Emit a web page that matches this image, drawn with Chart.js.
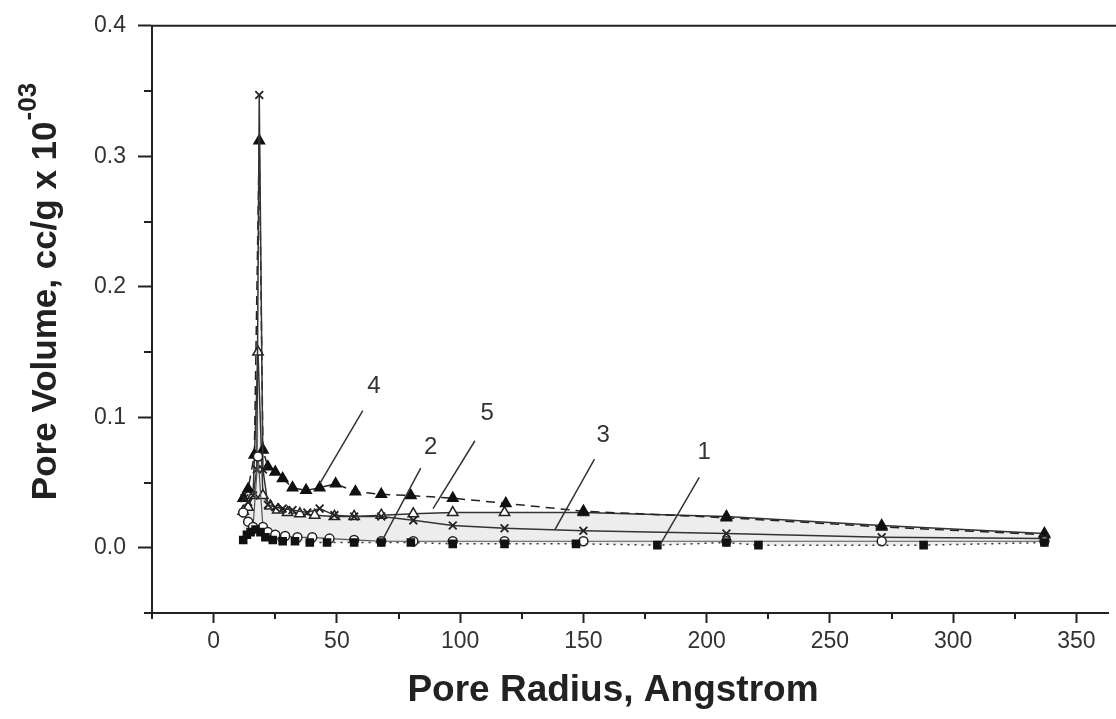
<!DOCTYPE html>
<html>
<head>
<meta charset="utf-8">
<script src="https://cdn.jsdelivr.net/npm/chart.js@4.4.0/dist/chart.umd.min.js"></script>
<style>
    html, body { margin: 0; padding: 0; background: #fff; overflow: hidden; }
</style>
</head>
<body>
<canvas id="pore-chart" width="1116" height="719"></canvas>
<script>
// Curve 1 - filled squares, dotted line
const s1X = [12, 13.5, 15, 17, 19, 21, 24, 28, 33, 39, 46, 57, 68, 80, 97, 118, 147, 180, 208, 221, 288, 337];
const s1Y = [0.006, 0.010, 0.012, 0.014, 0.012, 0.008, 0.006, 0.005, 0.005, 0.004, 0.004, 0.004, 0.004, 0.004, 0.003, 0.003, 0.003, 0.002, 0.004, 0.002, 0.002, 0.004];
// Curve 2 - open circles
const s2X = [12, 14, 16, 18, 20, 22, 25, 29, 34, 40, 47, 57, 68, 81, 97, 118, 150, 208, 271, 337];
const s2Y = [0.027, 0.020, 0.016, 0.070, 0.016, 0.012, 0.010, 0.009, 0.008, 0.008, 0.007, 0.006, 0.005, 0.005, 0.005, 0.005, 0.005, 0.005, 0.005, 0.005];
// Curve 3 - crosses
const s3X = [12.5, 14, 16, 17.5, 18.5, 20, 22, 25, 28, 32, 38, 43, 49, 57, 68, 81, 97, 118, 150, 208, 271, 337];
const s3Y = [0.038, 0.035, 0.040, 0.060, 0.347, 0.060, 0.033, 0.031, 0.030, 0.029, 0.027, 0.030, 0.025, 0.024, 0.024, 0.021, 0.017, 0.015, 0.013, 0.011, 0.008, 0.007];
// Curve 4 - filled triangles, dashed line
const s4X = [12, 14, 16.5, 18.5, 20, 22, 25, 28, 32, 37.5, 43, 49.5, 57.5, 68, 80, 97, 118.5, 150, 208, 271, 337];
const s4Y = [0.038, 0.045, 0.071, 0.312, 0.075, 0.062, 0.058, 0.053, 0.046, 0.044, 0.046, 0.049, 0.043, 0.041, 0.040, 0.038, 0.034, 0.028, 0.023, 0.016, 0.010];
// Curve 5 - open triangles
const s5X = [12, 14, 16, 18, 20, 23, 26, 30, 35, 41, 49, 57, 68, 81, 97, 118, 150, 208, 271, 337];
const s5Y = [0.028, 0.031, 0.040, 0.150, 0.040, 0.032, 0.029, 0.027, 0.026, 0.025, 0.024, 0.024, 0.025, 0.026, 0.027, 0.027, 0.027, 0.024, 0.017, 0.011];

// Axis ticks
const xTickValues = [0, 50, 100, 150, 200, 250, 300, 350];
const xMinorTicks = [-25, 25, 75, 125, 175, 225, 275, 325];
const yTickValues = [0.0, 0.1, 0.2, 0.3, 0.4];
const yMinorTicks = [-0.05, 0.05, 0.15, 0.25, 0.35];

// Curve number callouts (data units)
const calloutLabels = ['4', '2', '5', '3', '1'];
const calloutTextAt = [[65, 0.124], [88, 0.077], [111, 0.103], [158, 0.086], [199, 0.073]];
const calloutFrom = [[60.5, 0.105], [84, 0.061], [106, 0.082], [154.5, 0.068], [197, 0.054]];
const calloutTo = [[43, 0.049], [68.5, 0.006], [89, 0.030], [138.5, 0.014], [181, 0.002]];

const xTitle = 'Pore Radius, Angstrom';
const yTitle = 'Pore Volume, cc/g x 10';
const yTitleExp = '-03';

const FONT = "'Liberation Sans', Arial, sans-serif";
const INK = '#222';

const toPoints = (xs, ys) => xs.map((x, i) => ({ x, y: ys[i] }));

// frame top line, minor ticks, axis titles and callouts
const decorations = {
    id: 'decorations',
    afterDraw(chart) {
        const { ctx, chartArea } = chart;
        const xs = chart.scales.x;
        const ys = chart.scales.y;
        ctx.save();
        ctx.strokeStyle = INK;
        ctx.lineWidth = 2;

        // top frame
        ctx.beginPath();
        ctx.moveTo(chartArea.left - 1, chartArea.top);
        ctx.lineTo(chart.width, chartArea.top);
        ctx.stroke();

        // minor ticks
        ctx.beginPath();
        yMinorTicks.forEach(v => {
            const py = Math.round(ys.getPixelForValue(v));
            ctx.moveTo(chartArea.left - 8, py);
            ctx.lineTo(chartArea.left, py);
        });
        xMinorTicks.forEach(v => {
            const px = Math.round(xs.getPixelForValue(v));
            ctx.moveTo(px, chartArea.bottom);
            ctx.lineTo(px, chartArea.bottom + 6);
        });
        ctx.stroke();

        // callouts
        ctx.lineWidth = 1.5;
        ctx.strokeStyle = '#333';
        ctx.fillStyle = '#333';
        ctx.font = '24px ' + FONT;
        ctx.textAlign = 'center';
        ctx.textBaseline = 'middle';
        calloutLabels.forEach((label, i) => {
            ctx.beginPath();
            ctx.moveTo(xs.getPixelForValue(calloutFrom[i][0]), ys.getPixelForValue(calloutFrom[i][1]));
            ctx.lineTo(xs.getPixelForValue(calloutTo[i][0]), ys.getPixelForValue(calloutTo[i][1]));
            ctx.stroke();
            ctx.fillText(label, xs.getPixelForValue(calloutTextAt[i][0]), ys.getPixelForValue(calloutTextAt[i][1]));
        });

        // x title
        ctx.fillStyle = INK;
        ctx.font = 'bold 37px ' + FONT;
        ctx.textBaseline = 'alphabetic';
        ctx.fillText(xTitle, xs.getPixelForValue(162), 701);

        // y title with exponent
        ctx.font = 'bold 35px ' + FONT;
        const w1 = ctx.measureText(yTitle).width;
        ctx.font = 'bold 26px ' + FONT;
        const w2 = ctx.measureText(yTitleExp).width;
        ctx.translate(56, 292);
        ctx.rotate(-Math.PI / 2);
        ctx.textAlign = 'left';
        const start = -(w1 + w2) / 2;
        ctx.font = 'bold 35px ' + FONT;
        ctx.fillText(yTitle, start, 0);
        ctx.font = 'bold 26px ' + FONT;
        ctx.fillText(yTitleExp, start + w1 + 1, -20);
        ctx.restore();
    }
};

new Chart(document.getElementById('pore-chart'), {
    type: 'scatter',
    data: {
        datasets: [
            {
                label: '1',
                data: toPoints(s1X, s1Y),
                showLine: true,
                borderColor: '#333',
                borderWidth: 1.5,
                borderDash: [2, 5],
                pointStyle: 'rect',
                pointRadius: 5,
                pointBackgroundColor: '#111',
                pointBorderColor: '#111'
            },
            {
                label: '2',
                data: toPoints(s2X, s2Y),
                showLine: true,
                borderColor: '#555',
                borderWidth: 1.2,
                pointStyle: 'circle',
                pointRadius: 4.5,
                pointBackgroundColor: '#fff',
                pointBorderColor: '#222',
                pointBorderWidth: 1.5
            },
            {
                label: '3',
                data: toPoints(s3X, s3Y),
                showLine: true,
                borderColor: '#333',
                borderWidth: 1.5,
                pointStyle: 'crossRot',
                pointRadius: 5.5,
                pointBorderColor: '#222',
                pointBorderWidth: 1.8
            },
            {
                label: '4',
                data: toPoints(s4X, s4Y),
                showLine: true,
                borderColor: '#222',
                borderWidth: 1.5,
                borderDash: [9, 6],
                pointStyle: 'triangle',
                pointRadius: 6,
                pointBackgroundColor: '#111',
                pointBorderColor: '#111'
            },
            {
                label: '5',
                data: toPoints(s5X, s5Y),
                showLine: true,
                borderColor: '#333',
                borderWidth: 1.5,
                fill: { target: 0 },
                backgroundColor: 'rgba(0,0,0,0.07)',
                pointStyle: 'triangle',
                pointRadius: 6,
                pointBackgroundColor: '#fff',
                pointBorderColor: '#222',
                pointBorderWidth: 1.5
            }
        ]
    },
    options: {
        responsive: false,
        animation: false,
        layout: { padding: { top: 20, right: 0, left: 0, bottom: 0 } },
        plugins: {
            legend: { display: false },
            tooltip: { enabled: false }
        },
        scales: {
            x: {
                type: 'linear',
                min: -25,
                max: 363,
                afterBuildTicks: (scale) => {
                    scale.ticks = xTickValues.map(v => ({ value: v }));
                },
                afterFit: (scale) => { scale.height = 106; },
                border: { color: INK, width: 2 },
                grid: { drawOnChartArea: false, tickLength: 10, tickColor: INK, tickWidth: 2 },
                ticks: {
                    padding: 5,
                    color: '#333',
                    font: { family: FONT, size: 23 },
                    maxRotation: 0,
                    autoSkip: false
                }
            },
            y: {
                min: -0.05,
                max: 0.4,
                afterBuildTicks: (scale) => {
                    scale.ticks = yTickValues.map(v => ({ value: v }));
                },
                afterFit: (scale) => { scale.width = 152; },
                border: { color: INK, width: 2 },
                grid: { drawOnChartArea: false, tickLength: 14, tickColor: INK, tickWidth: 2 },
                ticks: {
                    padding: 12,
                    color: '#333',
                    font: { family: FONT, size: 23 },
                    callback: (v) => v.toFixed(1)
                }
            }
        }
    },
    plugins: [decorations]
});
</script>
</body>
</html>
